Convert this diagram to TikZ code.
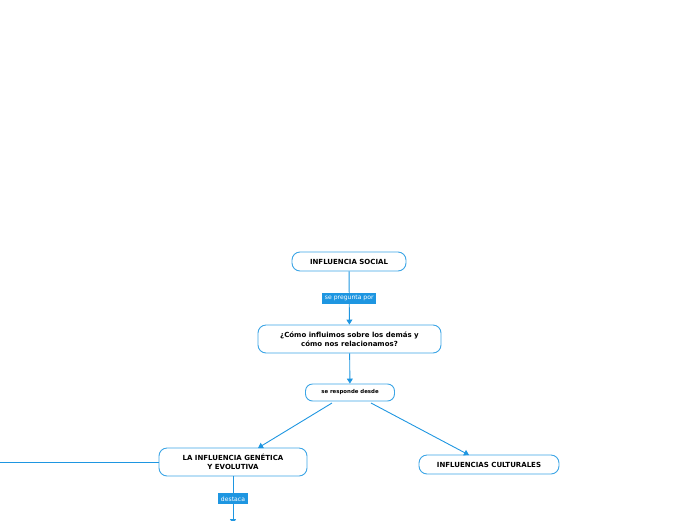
\documentclass[tikz,border=0pt]{standalone}
\usepackage{fontspec}
\setmainfont{DejaVu Sans}
\usepackage{xcolor}
\definecolor{mapblue}{RGB}{30, 150, 225}
\definecolor{edgeblue}{RGB}{60, 165, 230}
\usetikzlibrary{arrows.meta, positioning}

\begin{document}
\begin{tikzpicture}[
    x=1pt, y=-1pt,
    topic/.style={rectangle, rounded corners=8pt, draw=edgeblue, line width=0.9pt, fill=white,
                  align=center, font=\fontsize{7}{8.6}\selectfont\bfseries, inner sep=2pt},
    linkword/.style={rectangle, fill=mapblue, text=white, font=\fontsize{6.1}{7}\selectfont,
                  inner xsep=2.5pt, inner ysep=1.5pt, minimum height=11pt},
    link/.style={draw=mapblue, line width=0.9pt},
    tip/.style={-{Triangle[length=5pt,width=6pt]}}
]
    \useasboundingbox (0,0) rectangle (696,520);
    \node[topic, minimum width=114pt, minimum height=19pt] (social) at (349,261.5) {INFLUENCIA SOCIAL};
    \node[topic, minimum width=183pt, minimum height=28pt] (question) at (349.5,339) {¿Cómo influimos sobre los demás y\\cómo nos relacionamos?};
    \node[topic, minimum width=89pt, minimum height=17pt, rounded corners=7pt,
          font=\fontsize{5.4}{6}\selectfont\bfseries] (answer) at (350,392.5) {se responde desde};
    \node[topic, minimum width=148pt, minimum height=28pt] (genetic) at (233,462) {LA INFLUENCIA GENÉTICA\\Y EVOLUTIVA};
    \node[topic, minimum width=140pt, minimum height=19pt] (cultural) at (489,464.5) {INFLUENCIAS CULTURALES};
    \coordinate (leftend) at (-10,462);
    \coordinate (downend) at (233,524);

    % connectors
    \draw[link, tip] (social) -- node[linkword] {se pregunta por} (question);
    \draw[link, tip] (question) -- (answer);
    \draw[link, tip] (332,403) -- (258,448);
    \draw[link, tip] (371,403) -- (469,455);
    \draw[link] (genetic) -- (leftend);
    \draw[link, tip] (genetic) -- node[linkword, pos=0.47] {destaca} (downend);
\end{tikzpicture}
\end{document}
